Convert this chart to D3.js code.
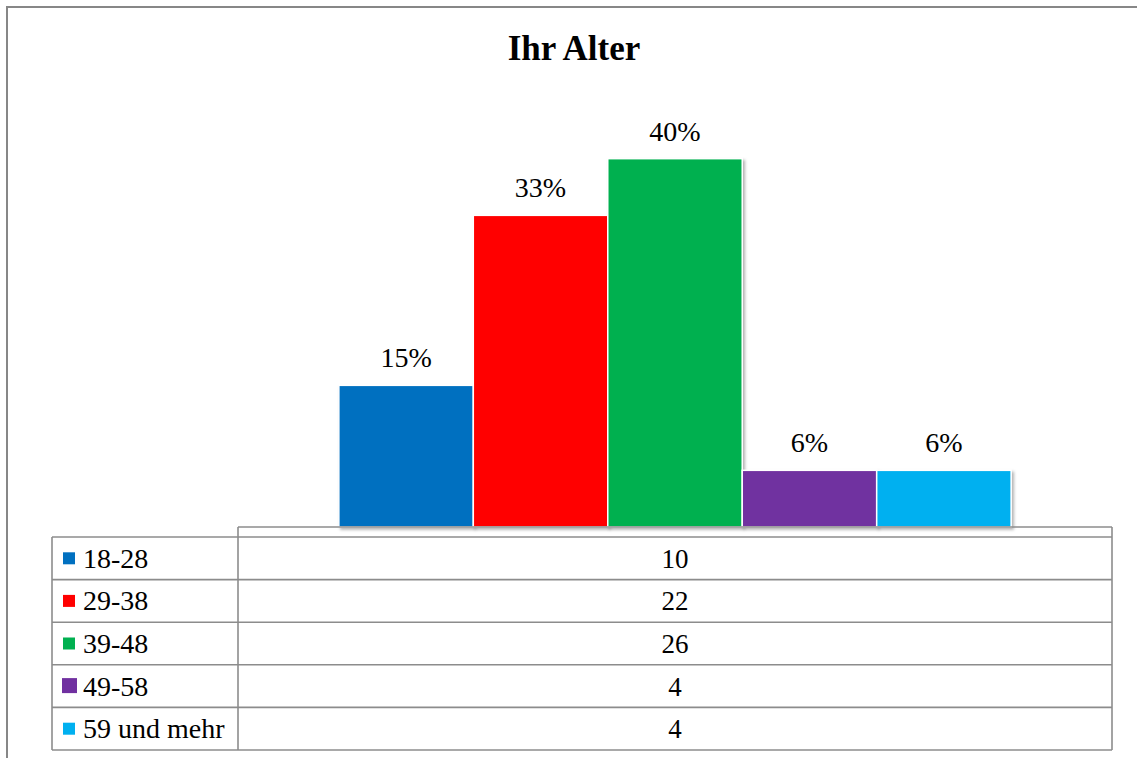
<!DOCTYPE html>
<html>
<head>
<meta charset="utf-8">
<script src="https://cdn.jsdelivr.net/npm/d3@7"></script>
<style>
  html, body { margin: 0; padding: 0; background: #fff; }
  svg { display: block; }
</style>
</head>
<body>
<div id="chart"></div>
<script>
// data
const categories = ['18-28', '29-38', '39-48', '49-58', '59 und mehr'];
const counts = [10, 22, 26, 4, 4];
const percentLabels = ['15%', '33%', '40%', '6%', '6%'];
const colors = ['#0070c0', '#ff0000', '#00b050', '#7030a0', '#00b0f0'];
const groupName = ['Ihr Alter'];

function createAgeChart() {
  const W = 1137, H = 758;
  const font = "'Liberation Serif', 'Times New Roman', serif";

  const svg = d3.select('#chart')
    .append('svg')
      .attr('width', W)
      .attr('height', H);

  // soft shadow for bars
  const defs = svg.append('defs');
  const f = defs.append('filter')
    .attr('id', 'shadow')
    .attr('x', '-10%').attr('y', '-10%')
    .attr('width', '130%').attr('height', '130%');
  f.append('feDropShadow')
    .attr('dx', 2).attr('dy', 2)
    .attr('stdDeviation', 1.8)
    .attr('flood-color', '#000')
    .attr('flood-opacity', 0.3);

  // outer chart frame (runs past the picture edge)
  svg.append('rect')
    .attr('x', 7).attr('y', 7)
    .attr('width', 1300).attr('height', 900)
    .attr('fill', '#fff')
    .attr('stroke', '#878787')
    .attr('stroke-width', 2);

  // title
  svg.append('text')
    .attr('x', 574).attr('y', 60)
    .attr('text-anchor', 'middle')
    .attr('font-family', font)
    .attr('font-weight', 'bold')
    .attr('font-size', '35px')
    .attr('fill', '#000')
    .text('Ihr Alter');

  // plot area
  const plotL = 238, plotR = 1112, plotB = 527, plotT = 102;

  const x0 = d3.scaleBand()
    .domain(groupName)
    .range([plotL, plotR])
    .paddingInner(0)
    .paddingOuter(0.15);

  const x1 = d3.scaleBand()
    .domain(categories)
    .range([0, x0.bandwidth()]);

  const y = d3.scaleLinear()
    .domain([0, 30])
    .range([plotB, plotT]);

  const bars = svg.append('g')
    .attr('transform', `translate(${x0(groupName[0])},0)`);

  bars.selectAll('rect')
    .data(categories)
    .enter()
    .append('rect')
      .attr('x', d => x1(d))
      .attr('y', (d, i) => y(counts[i]))
      .attr('width', x1.bandwidth())
      .attr('height', (d, i) => y(0) - y(counts[i]))
      .attr('fill', (d, i) => colors[i])
      .attr('stroke', '#fff')
      .attr('stroke-width', 1.5)
      .attr('filter', 'url(#shadow)');

  // data labels
  bars.selectAll('text')
    .data(categories)
    .enter()
    .append('text')
      .attr('x', d => x1(d) + x1.bandwidth() / 2)
      .attr('y', (d, i) => y(counts[i]) - 18)
      .attr('text-anchor', 'middle')
      .attr('font-family', font)
      .attr('font-size', '28px')
      .attr('fill', '#000')
      .text((d, i) => percentLabels[i]);

  // data table
  const tableL = 52, colDiv = plotL, tableT = 537, tableB = 750;
  const rows = d3.scaleBand()
    .domain(categories)
    .range([tableT, tableB]);

  const lineColor = '#8c8c8c';
  const grid = svg.append('g')
    .attr('stroke', lineColor)
    .attr('stroke-width', 1.6)
    .attr('fill', 'none');

  // axis line under the bars
  grid.append('line')
    .attr('x1', plotL).attr('x2', plotR)
    .attr('y1', plotB).attr('y2', plotB);

  // horizontal row lines
  const yLines = categories.map(c => rows(c)).concat([tableB]);
  grid.selectAll('line.row')
    .data(yLines)
    .enter()
    .append('line')
      .attr('class', 'row')
      .attr('x1', tableL).attr('x2', plotR)
      .attr('y1', d => d).attr('y2', d => d);

  // vertical lines
  grid.append('line')
    .attr('x1', tableL).attr('x2', tableL)
    .attr('y1', tableT).attr('y2', tableB);
  grid.append('line')
    .attr('x1', colDiv).attr('x2', colDiv)
    .attr('y1', plotB).attr('y2', tableB);
  grid.append('line')
    .attr('x1', plotR).attr('x2', plotR)
    .attr('y1', plotB).attr('y2', tableB);

  // legend keys + labels
  const rowG = svg.selectAll('g.trow')
    .data(categories)
    .enter()
    .append('g')
      .attr('class', 'trow')
      .attr('transform', d => `translate(0,${rows(d) + rows.bandwidth() / 2})`);

  rowG.append('rect')
    .attr('x', (d, i) => i === 3 ? 62 : 63)
    .attr('y', (d, i) => i === 3 ? -8 : -6)
    .attr('width', (d, i) => i === 3 ? 15 : 12)
    .attr('height', (d, i) => i === 3 ? 15 : 12)
    .attr('fill', (d, i) => colors[i]);

  rowG.append('text')
    .attr('x', 83)
    .attr('y', 9.5)
    .attr('font-family', font)
    .attr('font-size', '28px')
    .attr('fill', '#000')
    .text(d => d);

  rowG.append('text')
    .attr('x', (colDiv + plotR) / 2)
    .attr('y', 9.5)
    .attr('text-anchor', 'middle')
    .attr('font-family', font)
    .attr('font-size', '27px')
    .attr('fill', '#000')
    .text((d, i) => counts[i]);
}

createAgeChart();
</script>
</body>
</html>
